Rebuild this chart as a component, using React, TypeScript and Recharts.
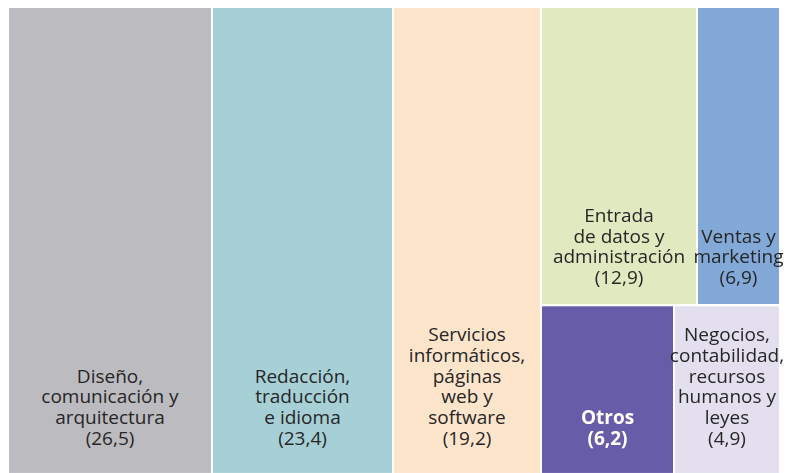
import { Treemap } from "recharts";

const labels = [
  ["Diseño,", "comunicación y", "arquitectura"],
  ["Redacción,", "traducción", "e idioma"],
  ["Servicios", "informáticos,", "páginas", "web y", "software"],
  ["Entrada", "de datos y", "administración"],
  ["Ventas y", "marketing"],
  ["Otros"],
  ["Negocios,", "contabilidad,", "recursos", "humanos y", "leyes"],
];
const values = [26.5, 23.4, 19.2, 12.9, 6.9, 6.2, 4.9];
const colors = ["#bcbcc0", "#a6d0d6", "#fde5cc", "#e1e9c0", "#82a9d7", "#675ca8", "#e3dfee"];

// grouping of the tiles (indexes into the arrays above), so squarify
// ends up with the same columns/rows as the original
const groups = [[[0, 1], 2], [[3, 4], [5, 6]]];

type Spec = number | Spec[];

function build(spec: Spec): any {
  if (typeof spec === "number") {
    return { name: labels[spec].join(" "), lines: labels[spec], value: values[spec], color: colors[spec], idx: spec };
  }
  return { name: "", children: spec.map(build) };
}

const data = (groups as Spec[]).map(build);

const W = 772;
const H = 440; // layout height, stretched to OUT_H below
const OUT_H = 470;
const SY = OUT_H / H;
const LH = 20.8;

function Tile(props: any) {
  const { x, y, width, height, children, lines, value, color, idx } = props;
  if ((children && children.length) || !lines) return null;
  const light = idx === 5;
  const all = [...lines, `(${value.toFixed(1).replace(".", ",")})`];
  const off = y + height >= H - 1 ? 29 : 21;
  const last = (y + height) * SY - off;
  const cx = x + width / 2;
  return (
    <g>
      <rect x={x} y={y} width={width} height={height} fill={color} stroke="#fff" strokeWidth={2} />
      <g transform={`scale(1, ${1 / SY})`}>
        <text
          textAnchor="middle"
          fontFamily="'Open Sans', sans-serif"
          fontSize={19}
          fontWeight={light ? 700 : 400}
          fill={light ? "#ffffff" : "#262626"}
        >
          {all.map((t, i) => (
            <tspan key={i} x={cx} y={last - (all.length - 1 - i) * LH}>
              {t}
            </tspan>
          ))}
        </text>
      </g>
    </g>
  );
}

export default function App() {
  return (
    <div style={{ height: OUT_H - 4 }}>
      <style>{".recharts-surface { overflow: visible; }"}</style>
      <div
        style={{
          position: "relative",
          top: -4,
          width: W,
          height: H,
          transform: `scaleY(${SY})`,
          transformOrigin: "0 0",
        }}
      >
        <Treemap
          width={W}
          height={H}
          data={data}
          dataKey="value"
          aspectRatio={1.66}
          isAnimationActive={false}
          content={(p: any) => Tile(p)}
        />
      </div>
    </div>
  );
}
